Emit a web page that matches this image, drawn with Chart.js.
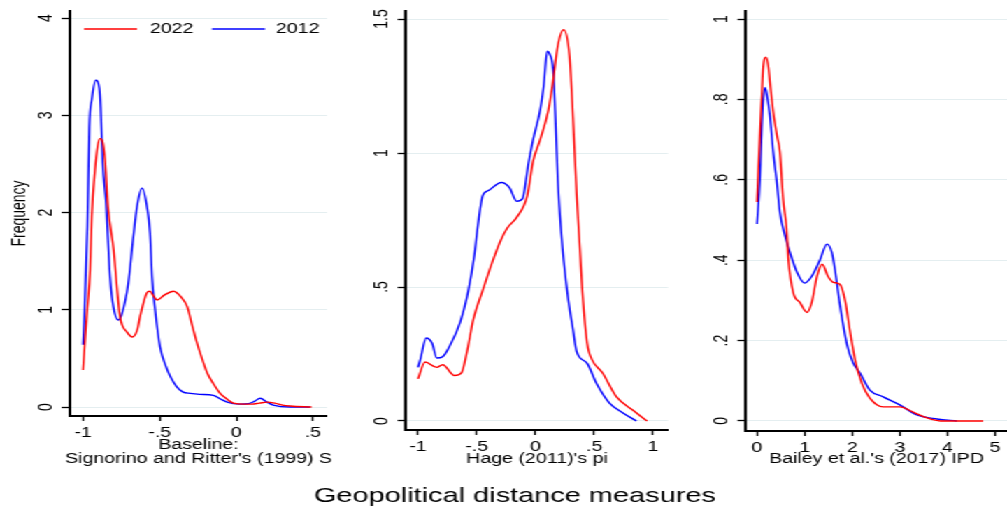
<!DOCTYPE html>
<html>
<head>
<meta charset="utf-8">
<script src="https://cdn.jsdelivr.net/npm/chart.js@4/dist/chart.umd.min.js"></script>
<style>
  html, body { margin: 0; padding: 0; background: #ffffff; overflow: hidden; width: 1007px; height: 512px; }
  #wrap { position: absolute; left: 0; top: 0; width: 720px; height: 512px; transform-origin: 0 0; }
  #wrap canvas { position: absolute; left: 0; top: 0; }
</style>
</head>
<body>
<div id="wrap">
  <canvas id="c1" width="720" height="512"></canvas>
  <canvas id="c2" width="720" height="512"></canvas>
  <canvas id="c3" width="720" height="512"></canvas>
</div>
<script>
// ---------------- DATA ----------------
const seriesNames = ['2022', '2012'];

// Panel 1: Baseline: Signorino and Ritter's (1999) S
const p1_2022 = [[-1.0,0.38],[-0.987,0.69],[-0.972,1.02],[-0.954,1.41],[-0.943,1.96],[-0.922,2.44],[-0.905,2.68],[-0.889,2.76],[-0.875,2.74],[-0.857,2.55],[-0.837,2.06],[-0.80,1.61],[-0.78,1.25],[-0.759,0.93],[-0.713,0.77],[-0.676,0.72],[-0.645,0.80],[-0.628,0.93],[-0.585,1.17],[-0.565,1.19],[-0.54,1.14],[-0.517,1.10],[-0.47,1.15],[-0.41,1.19],[-0.36,1.13],[-0.32,1.03],[-0.29,0.85],[-0.257,0.66],[-0.22,0.48],[-0.19,0.35],[-0.15,0.24],[-0.106,0.14],[-0.06,0.08],[-0.02,0.04],[0.05,0.03],[0.1,0.03],[0.15,0.04],[0.2,0.05],[0.25,0.04],[0.3,0.02],[0.35,0.01],[0.49,0.0]];
const p1_2012 = [[-1.0,0.64],[-0.993,0.87],[-0.972,1.85],[-0.959,2.88],[-0.943,3.16],[-0.917,3.36],[-0.894,3.28],[-0.885,3.08],[-0.872,2.51],[-0.85,2.1],[-0.835,1.65],[-0.824,1.34],[-0.802,1.03],[-0.77,0.895],[-0.748,0.95],[-0.705,1.27],[-0.674,1.72],[-0.648,2.06],[-0.615,2.25],[-0.583,2.06],[-0.563,1.79],[-0.55,1.34],[-0.53,1.0],[-0.498,0.62],[-0.46,0.42],[-0.43,0.31],[-0.39,0.21],[-0.35,0.155],[-0.3,0.14],[-0.24,0.13],[-0.15,0.12],[-0.1,0.08],[-0.06,0.05],[0.02,0.03],[0.08,0.035],[0.12,0.06],[0.155,0.09],[0.2,0.05],[0.24,0.02],[0.35,0.0],[0.48,0.0]];
const p1XTicks = [-1, -0.5, 0, 0.5];
const p1XLabels = ['-1', '-.5', '0', '.5'];
const p1YTicks = [0, 1, 2, 3, 4];
const p1YLabels = ['0', '1', '2', '3', '4'];
const p1Title = ['Baseline:', "Signorino and Ritter's (1999) S"];
const yTitle = 'Frequency';

// Panel 2: Hage (2011)'s pi
const p2_2022 = [[-1,0.157],[-0.94,0.22],[-0.84,0.20],[-0.79,0.21],[-0.69,0.17],[-0.63,0.18],[-0.58,0.265],[-0.53,0.377],[-0.447,0.49],[-0.37,0.59],[-0.3,0.67],[-0.24,0.72],[-0.16,0.76],[-0.07,0.84],[-0.02,0.97],[0.04,1.05],[0.11,1.16],[0.15,1.27],[0.19,1.40],[0.24,1.46],[0.29,1.36],[0.32,1.13],[0.35,0.85],[0.38,0.63],[0.40,0.48],[0.44,0.29],[0.48,0.23],[0.57,0.18],[0.69,0.09],[0.83,0.04],[0.95,0.0]];
const p2_2012 = [[-1,0.20],[-0.98,0.23],[-0.93,0.31],[-0.88,0.29],[-0.84,0.235],[-0.79,0.24],[-0.73,0.28],[-0.64,0.37],[-0.57,0.49],[-0.52,0.62],[-0.49,0.73],[-0.45,0.84],[-0.40,0.86],[-0.29,0.89],[-0.22,0.87],[-0.16,0.82],[-0.11,0.83],[-0.06,0.96],[-0.02,1.05],[0.04,1.16],[0.07,1.25],[0.10,1.38],[0.12,1.37],[0.15,1.31],[0.17,1.13],[0.19,0.90],[0.22,0.70],[0.24,0.60],[0.28,0.45],[0.32,0.34],[0.35,0.26],[0.44,0.215],[0.52,0.14],[0.63,0.067],[0.745,0.03],[0.86,0.0]];
const p2XTicks = [-1, -0.5, 0, 0.5, 1];
const p2XLabels = ['-1', '-.5', '0', '.5', '1'];
const p2YTicks = [0, 0.5, 1, 1.5];
const p2YLabels = ['0', '.5', '1', '1.5'];
const p2Title = ["Hage (2011)'s pi"];

// Panel 3: Bailey et al.'s (2017) IPD
const p3_2022 = [[0.0,0.545],[0.04,0.66],[0.1,0.81],[0.13,0.88],[0.19,0.905],[0.24,0.88],[0.27,0.845],[0.34,0.77],[0.42,0.71],[0.48,0.67],[0.55,0.55],[0.62,0.48],[0.66,0.40],[0.76,0.32],[0.90,0.295],[1.05,0.27],[1.15,0.295],[1.26,0.36],[1.37,0.39],[1.49,0.36],[1.6,0.345],[1.74,0.34],[1.85,0.30],[1.95,0.226],[2.06,0.152],[2.2,0.094],[2.37,0.057],[2.65,0.035],[3.0,0.035],[3.28,0.022],[3.56,0.008],[3.85,0.0],[4.75,0.0]];
const p3_2012 = [[0.0,0.49],[0.06,0.60],[0.1,0.73],[0.13,0.80],[0.17,0.83],[0.21,0.81],[0.27,0.76],[0.34,0.67],[0.42,0.59],[0.48,0.52],[0.59,0.46],[0.69,0.42],[0.84,0.37],[1.0,0.343],[1.15,0.36],[1.32,0.40],[1.47,0.44],[1.57,0.42],[1.64,0.375],[1.74,0.29],[1.89,0.19],[2.02,0.144],[2.16,0.12],[2.37,0.077],[2.65,0.06],[3.0,0.04],[3.36,0.015],[3.78,0.005],[4.2,0.0]];
const p3XTicks = [0, 1, 2, 3, 4, 5];
const p3XLabels = ['0', '1', '2', '3', '4', '5'];
const p3YTicks = [0, 0.2, 0.4, 0.6, 0.8, 1];
const p3YLabels = ['0', '.2', '.4', '.6', '.8', '1'];
const p3Title = ["Bailey et al.'s (2017) IPD"];

const mainTitle = 'Geopolitical distance measures';

// ---------------- STYLE / LAYOUT ----------------
const INNER_W = 720, H = 512;
const STRETCH = 1007 / INNER_W;
document.getElementById('wrap').style.transform = 'scaleX(' + STRETCH + ')';
const FONT = '"Liberation Sans", Arial, Helvetica, sans-serif';
const RED = '#ff0000', BLUE = '#0000ff';
const GRID = '#e4eef0';

const stataPlugin = {
  id: 'stata',
  afterDraw(chart, args, o) {
    const ctx = chart.ctx, ca = chart.chartArea, ys = chart.scales.y;
    ctx.save();
    ctx.fillStyle = '#000';
    ctx.font = '14px ' + FONT;
    // rotated y tick labels
    o.yTicks.forEach((v, i) => {
      const py = ys.getPixelForValue(v);
      ctx.save();
      ctx.translate(ca.left - 17, py);
      ctx.rotate(-Math.PI / 2);
      ctx.textAlign = 'center';
      ctx.textBaseline = 'middle';
      ctx.fillText(o.yLabels[i], 0, 0);
      ctx.restore();
    });
    // y axis title
    if (o.yTitle) {
      ctx.save();
      ctx.translate(14.5, (ca.top + ca.bottom) / 2);
      ctx.rotate(-Math.PI / 2);
      ctx.textAlign = 'center';
      ctx.textBaseline = 'middle';
      ctx.fillText(o.yTitle, 0, 0);
      ctx.restore();
    }
    // x axis title
    ctx.textAlign = 'center';
    ctx.textBaseline = 'middle';
    const cx = (ca.left + ca.right) / 2;
    o.xTitle.forEach((line, i) => ctx.fillText(line, cx, o.xTitleY[i]));
    // legend
    if (o.legend) {
      ctx.textAlign = 'left';
      const items = chart.data.datasets;
      const spots = [[60.1, 98.0, 107.2], [151.6, 189.5, 197.3]];
      items.forEach((ds, i) => {
        const [x0, x1, tx] = spots[i];
        ctx.strokeStyle = ds.borderColor;
        ctx.lineWidth = 1.4;
        ctx.beginPath();
        ctx.moveTo(x0, 29);
        ctx.lineTo(x1, 29);
        ctx.stroke();
        ctx.fillStyle = '#000';
        ctx.fillText(ds.label, tx, 29.5);
      });
    }
    // main title
    if (o.mainTitle) {
      ctx.font = '20.7px ' + FONT;
      ctx.textAlign = 'center';
      ctx.fillStyle = '#000';
      ctx.fillText(o.mainTitle, 368.2, 496);
    }
    ctx.restore();
  }
};

function toXY(arr) { return arr.map(p => ({ x: p[0], y: p[1] })); }

function makePanel(id, g) {
  const lookup = (ticks, labels) => (v) => {
    const i = ticks.findIndex(t => Math.abs(t - v) < 1e-9);
    return i >= 0 ? labels[i] : '';
  };
  return new Chart(document.getElementById(id), {
    type: 'line',
    data: {
      datasets: [
        { label: seriesNames[0], data: toXY(g.s2022), borderColor: RED, borderWidth: 1.4, pointRadius: 0, fill: false, cubicInterpolationMode: 'monotone' },
        { label: seriesNames[1], data: toXY(g.s2012), borderColor: BLUE, borderWidth: 1.4, pointRadius: 0, fill: false, cubicInterpolationMode: 'monotone' }
      ]
    },
    options: {
      responsive: false,
      animation: false,
      events: [],
      layout: { padding: { left: 0, right: INNER_W - g.right, top: g.top, bottom: 0 } },
      plugins: {
        legend: { display: false },
        tooltip: { enabled: false },
        stata: {
          yTicks: g.yTicks, yLabels: g.yLabels, yTitle: g.yTitle,
          xTitle: g.xTitle, xTitleY: g.xTitleY, legend: g.legend, mainTitle: g.mainTitle
        }
      },
      scales: {
        x: {
          type: 'linear', min: g.xMin, max: g.xMax,
          afterBuildTicks: (s) => { s.ticks = g.xTicks.map(v => ({ value: v })); },
          afterFit: (s) => { s.height = H - g.bottom; },
          ticks: { callback: lookup(g.xTicks, g.xLabels), font: { family: FONT, size: 14 }, color: '#000', padding: 4, maxRotation: 0, minRotation: 0, autoSkip: false },
          grid: { drawOnChartArea: false, drawTicks: true, tickLength: 5, tickColor: '#000', tickWidth: 1.3 },
          border: { display: true, color: '#000', width: 2 }
        },
        y: {
          type: 'linear', min: g.yMin, max: g.yMax,
          afterBuildTicks: (s) => { s.ticks = g.yTicks.map(v => ({ value: v })); },
          afterFit: (s) => { s.width = g.left; },
          ticks: { display: false },
          grid: { color: GRID, lineWidth: 1, drawTicks: true, tickLength: 6, tickColor: '#000', tickWidth: 1.3 },
          border: { display: true, color: '#000', width: 2 }
        }
      }
    },
    plugins: [stataPlugin]
  });
}

makePanel('c1', {
  s2022: p1_2022, s2012: p1_2012,
  left: 50.05, right: 233.8, top: 11, bottom: 416,
  xMin: -1.085, xMax: 0.591, yMin: -0.0925, yMax: 4.072,
  xTicks: p1XTicks, xLabels: p1XLabels, yTicks: p1YTicks, yLabels: p1YLabels,
  yTitle: yTitle, xTitle: p1Title, xTitleY: [445, 459.5], legend: true, mainTitle: mainTitle
});
makePanel('c2', {
  s2022: p2_2022, s2012: p2_2012,
  left: 290.3, right: 477.6, top: 11, bottom: 430,
  xMin: -1.102, xMax: 1.128, yMin: -0.0336, yMax: 1.530,
  xTicks: p2XTicks, xLabels: p2XLabels, yTicks: p2YTicks, yLabels: p2YLabels,
  yTitle: null, xTitle: p2Title, xTitleY: [459.5], legend: false, mainTitle: null
});
makePanel('c3', {
  s2022: p3_2022, s2012: p3_2012,
  left: 533.4, right: 720, top: 11, bottom: 431,
  xMin: -0.231, xMax: 5.252, yMin: -0.025, yMax: 1.02,
  xTicks: p3XTicks, xLabels: p3XLabels, yTicks: p3YTicks, yLabels: p3YLabels,
  yTitle: null, xTitle: p3Title, xTitleY: [459.5], legend: false, mainTitle: null
});
</script>
</body>
</html>
